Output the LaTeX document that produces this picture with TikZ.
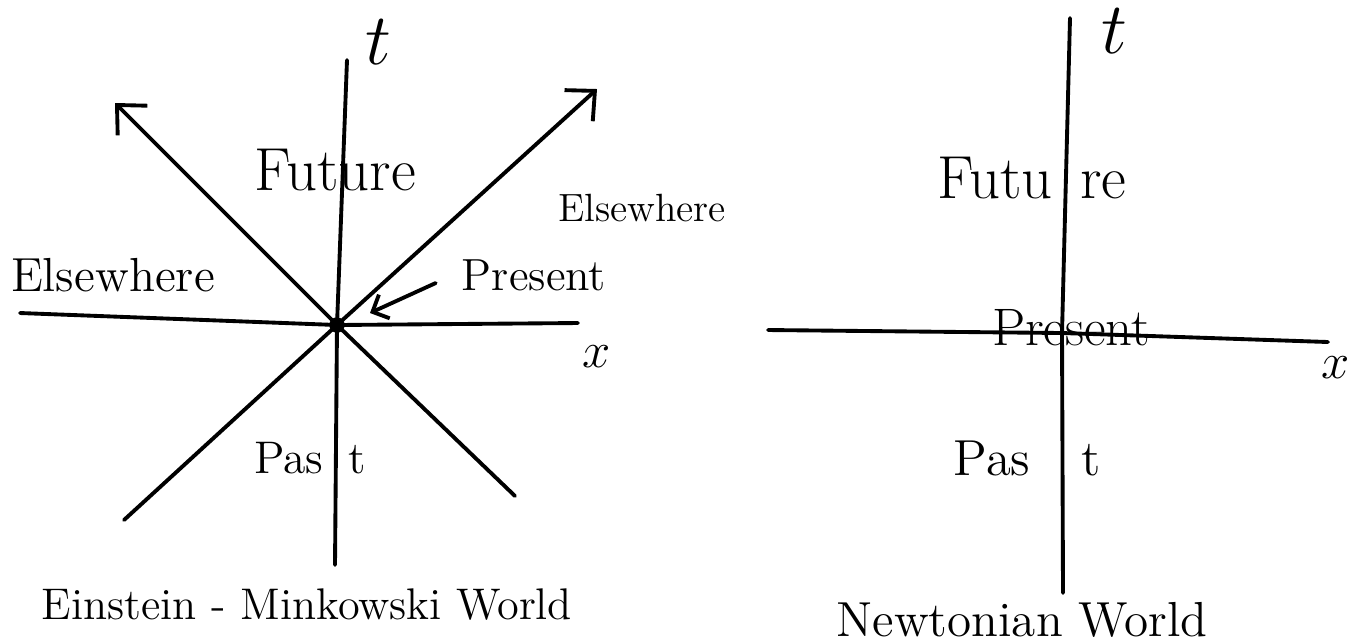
\documentclass[tikz,border=0pt]{standalone}
\usepackage{tikz}
\usetikzlibrary{arrows.meta,positioning,calc}

\newcommand{\fs}[1]{\fontsize{#1}{#1}\selectfont}

\begin{document}
\begin{tikzpicture}[x=0.01cm,y=-0.01cm,
  axis/.style={line width=1.1pt,line cap=round},
  cone/.style={axis,-{Straight Barb[length=2.2mm,width=4.2mm]}},
  ptr/.style={axis,-{Straight Barb[length=1.3mm,width=2.6mm]}},
  lbl/.style={inner sep=1pt}]
  \useasboundingbox (0,0) rectangle (1352,641);

  % Einstein--Minkowski world
  \coordinate (eO) at (337,325);
  \coordinate (eTtop) at (347,60);
  \coordinate (eTbot) at (335,565);
  \coordinate (eXl) at (20,313);
  \coordinate (eXr) at (578,323);
  \coordinate (eNW) at (115,103);
  \coordinate (eNE) at (597,89);
  \coordinate (eSW) at (124,520);
  \coordinate (eSE) at (515,496);
  \coordinate (eTip) at (370,313);
  \draw[axis] (eTbot) -- (eO) -- (eTtop);
  \draw[axis] (eXl) -- (eO) -- (eXr);
  \draw[cone] (eSE) -- (eO) -- (eNW);
  \draw[cone] (eSW) -- (eO) -- (eNE);
  \fill (eO) circle (2.2pt);
  \node[lbl,font=\huge] (eT) at (378,42) {$t$};
  \node[lbl,font=\LARGE] (eFut) at (335,170) {Future};
  \node[lbl,font=\fs{13.6}] (eElsL) at (113,275) {Elsewhere};
  \node[lbl,font=\fs{11.2}] (eElsR) at (642,208) {Elsewhere};
  \node[lbl,font=\fs{12.8}] (ePres) at (534,275) {Present};
  \node[lbl,font=\Large] (eX) at (597,357) {$x$};
  \node[lbl,font=\fs{13}] (ePast) at (310,458) {Pas\hspace{0.55em}t};
  \node[lbl,font=\fs{12.6}] (eCap) at (307,605) {Einstein - Minkowski World};
  \draw[ptr] ([xshift=-0.22cm,yshift=-0.08cm]ePres.west) -- (eTip);

  % Newtonian world
  \coordinate (nO) at (1062,333);
  \coordinate (nTtop) at (1070,18);
  \coordinate (nTbot) at (1063,593);
  \coordinate (nXl) at (768,330);
  \coordinate (nXr) at (1328,342);
  \draw[axis] (nTbot) -- (nO) -- (nTtop);
  \draw[axis] (nXl) -- (nO) -- (nXr);
  \node[lbl,font=\huge] (nT) at (1114,31) {$t$};
  \node[lbl,font=\LARGE] (nFut) at (1032,178) {Futu\hspace{0.45em}re};
  \node[lbl,font=\fs{15}] (nPres) at (1071,328) {Present};
  \node[lbl,font=\Large] (nX) at (1336,368) {$x$};
  \node[lbl,font=\Large] (nPast) at (1027,458) {Pas\hspace{1em}t};
  \node[lbl,font=\fs{14}] (nCap) at (1022,620) {Newtonian World};
\end{tikzpicture}
\end{document}
